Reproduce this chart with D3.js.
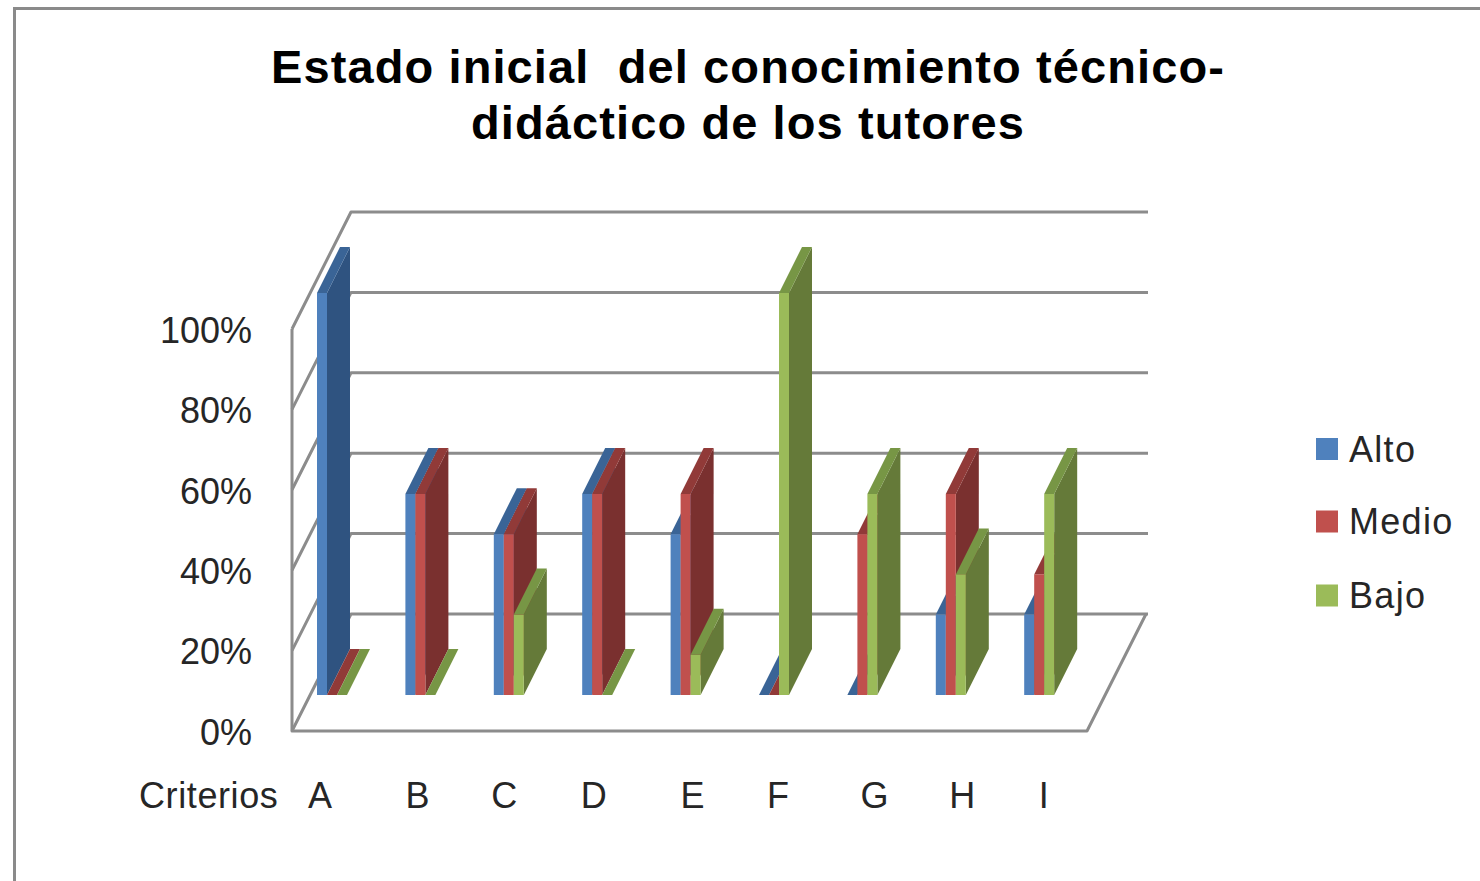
<!DOCTYPE html>
<html lang="es">
<head>
<meta charset="utf-8">
<title>Estado inicial del conocimiento técnico-didáctico de los tutores</title>
<script src="https://cdn.jsdelivr.net/npm/d3@7/dist/d3.min.js"></script>
<style>
  html, body { margin: 0; padding: 0; background: #fff; overflow: hidden; }
  svg { display: block; }
  .label { font-family: "Liberation Sans", Arial, sans-serif; fill: #262626; white-space: pre; }
</style>
</head>
<body>
<svg id="chart" width="1480" height="881"></svg>
<script>
// Percentage of tutors at each level, per criterion
const categories = ["A", "B", "C", "D", "E", "F", "G", "H", "I"];
const alto  = [100, 50, 40, 50, 40, 0, 0, 20, 20];
const medio = [0, 50, 40, 50, 50, 0, 40, 50, 30];
const bajo  = [0, 0, 20, 0, 10, 100, 50, 30, 50];
const seriesNames = ["Alto", "Medio", "Bajo"];
const seriesValues = [alto, medio, bajo];
const tickValues = [0, 20, 40, 60, 80, 100];
const titleLines = ["Estado inicial  del conocimiento técnico-", "didáctico de los tutores"];
const axisCaption = "Criterios";

// Front, top and side shades of each series
const palette = {
  Alto:  { front: "#4F81BD", top: "#3A6496", side: "#2F5380" },
  Medio: { front: "#C0504D", top: "#913A38", side: "#7A302F" },
  Bajo:  { front: "#9BBB59", top: "#779645", side: "#657A39" }
};

const svg = d3.select("#chart");
const gridColor = "#8c8c8c";

// Oblique projection: wall depth and bar depth offsets
const wall = { left: 292, right: 1087, bottom: 731, top: 329, dx: 59, dy: -117 };
const bar = { dx: 23, dy: -46, floor: 695, full: 293, width: 30 };
const labelNudge = [-12, -3, -4.6, -3.4, 6.8, 4, 12.2, 11.4, 4.6];

const yWall = d3.scaleLinear().domain([0, 100]).range([wall.bottom, wall.top]);
const yBar = d3.scaleLinear().domain([0, 100]).range([bar.floor, bar.full]);
const x0 = d3.scaleBand().domain(categories).range([317, 1112.6]);
const x1 = d3.scaleBand().domain(seriesNames).range([0, bar.width]);

// Outer frame of the chart area
svg.append("path")
  .attr("d", "M14.5,881 V8.5 H1480")
  .attr("fill", "none").attr("stroke", "#8a8a8a").attr("stroke-width", 3);

// Title
svg.append("g").selectAll("text").data(titleLines).join("text")
  .attr("class", "label")
  .attr("x", 748)
  .attr("y", (d, i) => 83 + i * 56)
  .attr("text-anchor", "middle")
  .attr("font-size", 47)
  .attr("font-weight", "bold")
  .attr("letter-spacing", 1.1)
  .style("fill", "#000")
  .text(d => d);

// Walls and gridlines
const grid = svg.append("g").attr("fill", "none")
  .attr("stroke", gridColor).attr("stroke-width", 3).attr("stroke-linejoin", "round");
tickValues.forEach(v => {
  const y = yWall(v);
  grid.append("path").attr("d", d3.line()([
    [wall.left, y],
    [wall.left + wall.dx, y + wall.dy],
    [1148, y + wall.dy]
  ]));
});
grid.append("path").attr("d", d3.line()([
  [wall.left, wall.top], [wall.left, wall.bottom],
  [wall.right, wall.bottom], [wall.right + wall.dx, wall.bottom + wall.dy]
]));

// Value axis labels, hung off the front edge of the left wall
const axis = d3.axisLeft(yWall).tickValues(tickValues).tickFormat(d => d + "%").tickSize(0).tickPadding(40);
const axisG = svg.append("g").attr("transform", `translate(${wall.left},0)`).call(axis);
axisG.select(".domain").remove();
axisG.selectAll("text")
  .attr("class", "label")
  .attr("font-size", 36)
  .attr("font-family", "\"Liberation Sans\", Arial, sans-serif")
  .attr("dy", "0.37em");

// Bars: drawn left to right so each one overlaps its neighbour's side
const groups = svg.append("g").selectAll("g").data(categories).join("g")
  .attr("transform", d => `translate(${x0(d)},0)`);

groups.each(function (cat, ci) {
  const g = d3.select(this);
  seriesNames.forEach((name, si) => {
    const value = seriesValues[si][ci];
    const c = palette[name];
    const x = x1(name), w = x1.bandwidth(), yTop = yBar(value), yBase = yBar(0);
    g.append("path").attr("fill", c.side).attr("d", d3.line()([
      [x + w, yTop], [x + w + bar.dx, yTop + bar.dy],
      [x + w + bar.dx, yBase + bar.dy], [x + w, yBase]
    ]));
    g.append("path").attr("fill", c.top).attr("d", d3.line()([
      [x, yTop], [x + bar.dx, yTop + bar.dy],
      [x + w + bar.dx, yTop + bar.dy], [x + w, yTop]
    ]));
    g.append("rect").attr("fill", c.front)
      .attr("x", x).attr("y", yTop).attr("width", w).attr("height", yBase - yTop);
  });
});

// Category labels along the floor
svg.append("g").selectAll("text").data(categories).join("text")
  .attr("class", "label")
  .attr("x", (d, i) => x0(d) + bar.width / 2 + labelNudge[i])
  .attr("y", 808)
  .attr("text-anchor", "middle")
  .attr("font-size", 36)
  .text(d => d);
svg.append("text").attr("class", "label")
  .attr("x", 139).attr("y", 808).attr("font-size", 36)
  .attr("letter-spacing", 0.6).text(axisCaption);

// Legend
const legendY = d3.scaleOrdinal().domain(seriesNames).range([449, 521.5, 595.5]);
const legend = svg.append("g").selectAll("g").data(seriesNames).join("g")
  .attr("transform", d => `translate(1316,${legendY(d)})`);
legend.append("rect")
  .attr("y", -11).attr("width", 22).attr("height", 22)
  .attr("fill", d => palette[d].front);
legend.append("text").attr("class", "label")
  .attr("x", 33).attr("dy", "0.36em").attr("font-size", 36)
  .attr("letter-spacing", 1.3)
  .text(d => d);
</script>
</body>
</html>
